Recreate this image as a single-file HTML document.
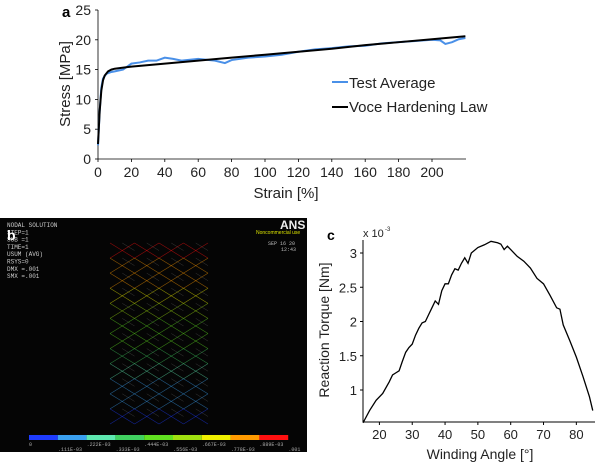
<!DOCTYPE html>
<html><head><meta charset="utf-8"><style>
body{margin:0;background:#fff;width:600px;height:463px;overflow:hidden;font-family:"Liberation Sans",sans-serif}
svg{position:absolute;left:0;top:0}
</style></head><body>
<svg width="600" height="463" xmlns="http://www.w3.org/2000/svg">
<g id="chartA"></g>
<g id="panelB"></g>
<g id="chartC"></g>
</svg>
<script>
// Panel a data
const strainTest=[0,1,2,3,5,8,10,15,20,25,30,35,40,45,50,60,70,76,80,90,100,110,120,130,140,150,160,170,180,190,200,205,208,212,216,220];
const stressTest=[2.3,8,12,13.5,14.3,14.6,14.7,15.0,16.0,16.2,16.5,16.5,17.0,16.8,16.5,16.8,16.5,16.1,16.6,17.0,17.2,17.5,18.0,18.4,18.6,18.9,19.0,19.4,19.6,19.8,20.0,19.9,19.3,19.6,20.1,20.3];
const strainVoce=[0,1,2,3,4,6,8,10,20,40,60,80,100,120,140,160,180,200,220];
const stressVoce=[2.5,8,11.5,13.2,14,14.7,15.0,15.15,15.5,16.0,16.5,17.0,17.5,18.0,18.5,19.1,19.6,20.1,20.6];
const aXTicks=[0,20,40,60,80,100,120,140,160,180,200];
const aYTicks=[0,5,10,15,20,25];
// Panel c data
const angle=[15,17,19,21,23,24,25,26,27,28,29,30,31,32,33,34,35,36,37,38,39,40,41,42,43,44,45,46,47,48,50,52,54,56,57,58,59,60,62,64,66,68,70,72,74,75,76,78,80,82,84,85];
const torque=[0.52,0.7,0.85,0.95,1.12,1.22,1.25,1.28,1.42,1.55,1.62,1.67,1.8,1.9,1.98,2.0,2.1,2.2,2.3,2.25,2.45,2.55,2.55,2.68,2.77,2.75,2.85,2.93,2.85,3.0,3.08,3.12,3.17,3.15,3.13,3.05,3.1,3.05,2.95,2.88,2.78,2.63,2.55,2.38,2.2,2.18,1.95,1.72,1.48,1.2,0.9,0.7];
const cXTicks=[20,30,40,50,60,70,80];
const cYTicks=[1,1.5,2,2.5,3];
const cYLabels=["1","1.5","2","2.5","3"];
const barColors=["#1e3cff","#3aa0f0","#5ee8b0","#40d060","#60e020","#a0e010","#f0f000","#ff9a00","#ff1010"];
const barLabelsTop=["0",".222E-03",".444E-03",".667E-03",".889E-03"];
const barLabelsBot=[".111E-03",".333E-03",".556E-03",".778E-03",".001"];

const NS="http://www.w3.org/2000/svg";
function mk(parent,tag,attrs,text){const e=document.createElementNS(NS,tag);for(const k in attrs)e.setAttribute(k,attrs[k]);if(text!==undefined)e.textContent=text;parent.appendChild(e);return e;}

// ---- Panel a
const A=document.getElementById('chartA');
const ax=v=>98+v*(432-98)/200, ay=v=>159-v*(159-10)/25;
let e;
e=mk(A,'line',{x1:98,y1:10,x2:98,y2:159,stroke:'#000','stroke-width':0.8});

e=mk(A,'line',{x1:98,y1:159,x2:466,y2:159,stroke:'#000','stroke-width':0.8});

aYTicks.forEach(t=>{mk(A,'line',{x1:95,y1:ay(t),x2:98,y2:ay(t),stroke:'#000','stroke-width':0.8});
 e=mk(A,'text',{x:91,y:ay(t)+5,'text-anchor':'end','font-size':14,fill:'#222'},String(t));
 });
aXTicks.forEach(t=>{mk(A,'line',{x1:ax(t),y1:159,x2:ax(t),y2:162,stroke:'#000','stroke-width':0.8});
 e=mk(A,'text',{x:ax(t),y:177,'text-anchor':'middle','font-size':14,fill:'#222'},String(t));
 });
e=mk(A,'polyline',{points:strainTest.map((s,i)=>ax(s)+','+ay(stressTest[i])).join(' '),fill:'none',stroke:'#4a90e8','stroke-width':2});

e=mk(A,'polyline',{points:strainVoce.map((s,i)=>ax(s)+','+ay(stressVoce[i])).join(' '),fill:'none',stroke:'#000','stroke-width':2});

e=mk(A,'text',{x:286,y:198,'text-anchor':'middle','font-size':15,fill:'#222'},'Strain [%]');

e=mk(A,'text',{x:0,y:0,'text-anchor':'middle','font-size':15,fill:'#222',transform:'translate(70,84) rotate(-90)'},'Stress [MPa]');

e=mk(A,'text',{x:62,y:17,'font-size':15,'font-weight':'bold'},'a');

mk(A,'line',{x1:332,y1:82,x2:348,y2:82,stroke:'#4a90e8','stroke-width':2});
e=mk(A,'text',{x:349,y:88,'font-size':15,fill:'#222'},'Test Average');

mk(A,'line',{x1:332,y1:107,x2:348,y2:107,stroke:'#000','stroke-width':2});
e=mk(A,'text',{x:349,y:112,'font-size':15,fill:'#222'},'Voce Hardening Law');


// ---- Panel b
const B=document.getElementById('panelB');
e=mk(B,'rect',{x:0,y:218,width:307,height:234,fill:'#050505'});

const info=["NODAL SOLUTION","STEP=1","SUB =1","TIME=1","USUM    (AVG)","RSYS=0","DMX =.001","SMX =.001"];
info.forEach((t,i)=>{mk(B,'text',{x:7,y:227+i*7.3,'font-size':6,fill:'#ccc','font-family':'Liberation Mono, monospace'},t);});
e=mk(B,'text',{x:7,y:240,'font-size':14,'font-weight':'bold',fill:'#fff'},'b');

mk(B,'text',{x:280,y:229,'font-size':12,'font-weight':'bold',fill:'#eee'},'ANS');
mk(B,'text',{x:256,y:234,'font-size':5,fill:'#d8e000'},'Noncommercial use');
mk(B,'text',{x:268,y:245,'font-size':5,fill:'#bbb','font-family':'Liberation Mono, monospace'},'SEP 16 20');
mk(B,'text',{x:281,y:251,'font-size':5,fill:'#bbb','font-family':'Liberation Mono, monospace'},'12:43');
// lattice
const lx0=110,lx1=208,ly0=243,ly1=424,rows=12;
const hue=y=>{const f=(ly1-y)/(ly1-ly0);const i=Math.min(8,Math.floor(f*9));return barColors[i];};
const step=(ly1-ly0)/rows;
for(let r=0;r<rows;r++){const y0=ly0+r*step,y1=y0+step;
 for(let c=0;c<4;c++){const xa=lx0+c*(lx1-lx0)/4,xb=xa+(lx1-lx0)/4;
  const col=hue((y0+y1)/2);
  mk(B,'line',{x1:xa,y1:y0,x2:xb,y2:y1,stroke:col,'stroke-width':0.6,opacity:0.55});
  mk(B,'line',{x1:xb,y1:y0,x2:xa,y2:y1,stroke:col,'stroke-width':0.6,opacity:0.55});
  mk(B,'line',{x1:(xa+xb)/2,y1:y0,x2:xb,y2:(y0+y1)/2,stroke:'#999','stroke-width':0.4,opacity:0.45});
 }}
barColors.forEach((c,i)=>{e=mk(B,'rect',{x:29+i*28.8,y:435,width:28.8,height:5,fill:c});
 });
barLabelsTop.forEach((t,i)=>mk(B,'text',{x:29+i*57.6,y:446,'font-size':5,fill:'#aaa','font-family':'Liberation Mono, monospace'},t));
barLabelsBot.forEach((t,i)=>mk(B,'text',{x:58+i*57.6,y:451,'font-size':5,fill:'#aaa','font-family':'Liberation Mono, monospace'},t));

// ---- Panel c
const C=document.getElementById('chartC');
const cx=v=>363+(v-15)*(577-363)/(80-15+0.2);
const cyf=v=>253+(3-v)*(390-253)/2;
e=mk(C,'line',{x1:363,y1:240,x2:363,y2:422,stroke:'#000','stroke-width':1});

e=mk(C,'line',{x1:363,y1:422,x2:595,y2:422,stroke:'#000','stroke-width':1});

cYTicks.forEach((t,i)=>{mk(C,'line',{x1:360,y1:cyf(t),x2:363,y2:cyf(t),stroke:'#000'});
 e=mk(C,'text',{x:357,y:cyf(t)+5,'text-anchor':'end','font-size':13,fill:'#222'},cYLabels[i]);
 });
cXTicks.forEach(t=>{mk(C,'line',{x1:cx(t),y1:422,x2:cx(t),y2:425,stroke:'#000'});
 e=mk(C,'text',{x:cx(t),y:439,'text-anchor':'middle','font-size':13,fill:'#222'},String(t));
 });
e=mk(C,'polyline',{points:angle.map((a,i)=>cx(a)+','+cyf(torque[i])).join(' '),fill:'none',stroke:'#000','stroke-width':1.3});

e=mk(C,'text',{x:480,y:459,'text-anchor':'middle','font-size':14,fill:'#222'},'Winding Angle [°]');

e=mk(C,'text',{x:0,y:0,'text-anchor':'middle','font-size':14,fill:'#222',transform:'translate(329,330) rotate(-90)'},'Reaction Torque [Nm]');

e=mk(C,'text',{x:327,y:240,'font-size':14,'font-weight':'bold'},'c');

e=mk(C,'text',{x:363,y:237,'font-size':11,fill:'#222'},'x 10');

mk(C,'text',{x:385,y:231,'font-size':6,fill:'#222'},'-3');
</script>
</body></html>
